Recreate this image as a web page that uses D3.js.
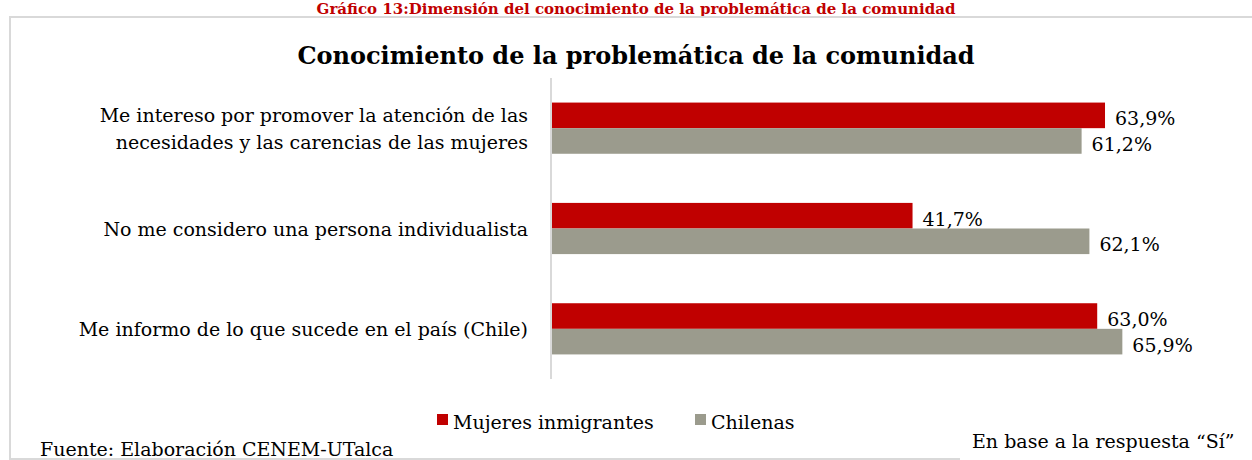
<!DOCTYPE html>
<html>
<head>
<meta charset="UTF-8">
<script src="https://cdn.jsdelivr.net/npm/d3@7"></script>
<style>
  body { margin: 0; background: #fff; }
  svg text { font-family: "DejaVu Serif", serif; }
</style>
</head>
<body>
<svg id="chart" width="1252" height="460"></svg>
<script>
// datos
const categorias = [
  ["Me intereso por promover la atención de las", "necesidades y las carencias de las mujeres"],
  ["No me considero una persona individualista"],
  ["Me informo de lo que sucede en el país (Chile)"]
];
const series = ["Mujeres inmigrantes", "Chilenas"];
const inmigrantes = [63.9, 41.7, 63.0];
const chilenas = [61.2, 62.1, 65.9];
const colores = ["#c00000", "#9b9b8d"];

const svg = d3.select("#chart");

// titulo de arriba
svg.append("text")
  .attr("x", 636).attr("y", 14)
  .attr("text-anchor", "middle")
  .attr("fill", "#c00000")
  .attr("font-weight", "bold")
  .attr("font-family", "DejaVu Serif Condensed, DejaVu Serif, serif")
  .attr("font-size", 15)
  .text("Gráfico 13:Dimensión del conocimiento de la problemática de la comunidad");

// marco
svg.append("path")
  .attr("d", "M1260,17 H10 V459 H960")
  .attr("fill", "none")
  .attr("stroke", "#d9d9d9")
  .attr("stroke-width", 2);

svg.append("text")
  .attr("x", 636).attr("y", 64)
  .attr("text-anchor", "middle")
  .attr("font-weight", "bold")
  .attr("font-family", "DejaVu Serif Condensed, DejaVu Serif, serif")
  .attr("font-size", 24)
  .text("Conocimiento de la problemática de la comunidad");

const x = d3.scaleLinear().domain([0, 100]).range([551, 551 + 867]);
const y = d3.scaleBand().domain(d3.range(categorias.length)).range([78, 379]);
const ys = d3.scaleBand().domain(series).range([0, y.bandwidth()]).paddingInner(0).paddingOuter(0.96);

const datos = [];
categorias.forEach((c, i) => {
  datos.push({ i: i, s: series[0], v: inmigrantes[i], c: colores[0] });
  datos.push({ i: i, s: series[1], v: chilenas[i], c: colores[1] });
});

svg.selectAll("rect.bar").data(datos).enter().append("rect")
  .attr("class", "bar")
  .attr("x", x(0))
  .attr("y", d => y(d.i) + ys(d.s))
  .attr("width", d => x(d.v) - x(0))
  .attr("height", ys.bandwidth())
  .attr("fill", d => d.c);

svg.selectAll("text.val").data(datos).enter().append("text")
  .attr("class", "val")
  .attr("x", d => x(d.v) + 10)
  .attr("y", d => y(d.i) + ys(d.s) + ys.bandwidth() / 2 + 10)
  .attr("font-size", 19)
  .attr("fill", "#000")
  .text(d => d3.format(".1f")(d.v).replace(".", ",") + "%");

// eje vertical
svg.append("line")
  .attr("x1", x(0)).attr("x2", x(0))
  .attr("y1", y.range()[0]).attr("y2", y.range()[1])
  .attr("stroke", "#d9d9d9").attr("stroke-width", 2);

// etiquetas de categorias
categorias.forEach((lineas, i) => {
  const cy = y(i) + y.bandwidth() / 2;
  const t = svg.append("text")
    .attr("text-anchor", "end")
    .attr("font-size", 19)
    .attr("x", 528);
  lineas.forEach((l, k) => {
    t.append("tspan")
      .attr("x", 528)
      .attr("y", cy + 7 + (k - (lineas.length - 1) / 2) * 27)
      .text(l);
  });
});

// leyenda
const leyX = [437, 695];
series.forEach((s, k) => {
  svg.append("rect")
    .attr("x", leyX[k]).attr("y", 414)
    .attr("width", 11).attr("height", 11)
    .attr("fill", colores[k]);
  svg.append("text")
    .attr("x", leyX[k] + 16).attr("y", 429)
    .attr("font-size", 19)
    .text(s);
});

svg.append("text")
  .attr("x", 40).attr("y", 456)
  .attr("font-size", 19)
  .text("Fuente: Elaboración CENEM-UTalca");

svg.append("text")
  .attr("x", 972).attr("y", 448)
  .attr("font-size", 19)
  .text("En base a la respuesta “Sí”");
</script>
</body>
</html>
